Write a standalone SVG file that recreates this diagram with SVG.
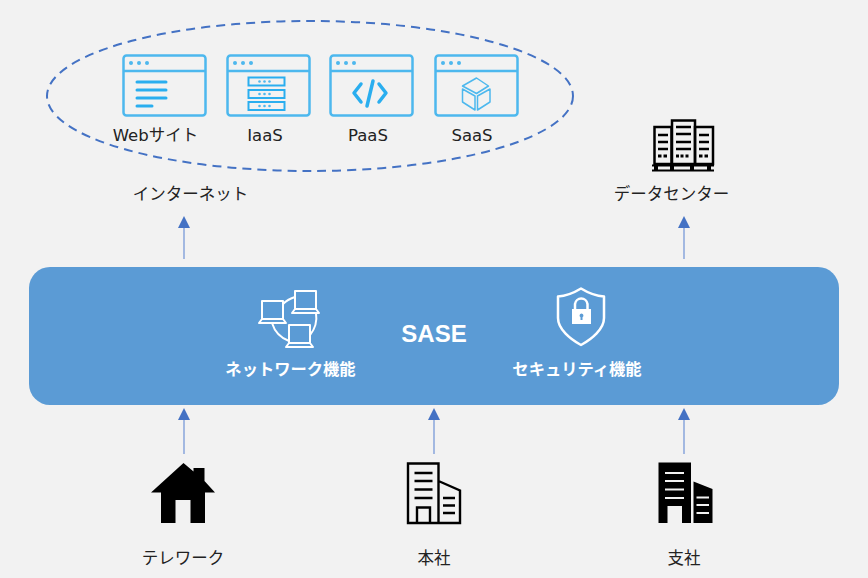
<svg xmlns="http://www.w3.org/2000/svg" width="868" height="578" viewBox="0 0 868 578">
<style>
text{font-family:"DejaVu Sans","Noto Sans CJK JP",sans-serif;font-size:16.500px;fill:#222;text-anchor:middle}
.w{fill:none;stroke:#4db8ee;stroke-width:2.500}
.b{fill:none;stroke:#2aaeef;stroke-width:3;stroke-linecap:round;stroke-linejoin:round}
.d{fill:#4db8ee}
.wt{fill:#fff;font-weight:700;font-size:16.300px}
.k{fill:none;stroke:#000;stroke-width:2.500}
.kf{fill:#000}
.ws{fill:none;stroke:#fff;stroke-width:2;stroke-linejoin:round}
.conn{stroke:#8faadc;stroke-width:1.600;fill:none}
.head{fill:#4472c4}
.sl{stroke:#f2f2f2;stroke-width:2}
</style>
<defs>
<g id="win">
<rect class="w" x="1" y="1" width="82" height="60" rx="3"/>
<path class="w" d="M1 16.500H83"/>
<circle class="d" cx="8.500" cy="8.500" r="2"/><circle class="d" cx="16.500" cy="8.500" r="2"/><circle class="d" cx="24.500" cy="8.500" r="2"/>
</g>
<g id="srv"><rect x="0" y="0" width="36" height="8" fill="none" stroke="#2aaeef" stroke-width="2"/><circle class="d" cx="11" cy="4" r="1.300"/><circle class="d" cx="16" cy="4" r="1.300"/><circle class="d" cx="21" cy="4" r="1.300"/></g>
<path id="pc" class="ws" d="M3 0H24V18H3ZM3 18L0 22H27L24 18"/>
<path id="ah" class="head" d="M0 0L6 12H-6Z"/>
</defs>
<rect width="868" height="578" fill="#f2f2f2"/>
<ellipse cx="310" cy="96" rx="263" ry="75" fill="none" stroke="#4472c4" stroke-width="2" stroke-dasharray="9 6"/>
<g id="web"><use href="#win" x="122.500" y="54.500"/>
<path class="b" d="M137 82H166M137 90H166M137 98H166M137 106H152"/>
<text x="155.500" y="140.500">Webサイト</text></g>
<g id="iaas"><use href="#win" x="226.500" y="54.500"/>
<use href="#srv" x="248.500" y="77.500"/><use href="#srv" x="248.500" y="90"/><use href="#srv" x="248.500" y="102"/>
<text x="265" y="140.500">IaaS</text></g>
<g id="paas"><use href="#win" x="329.500" y="54.500"/>
<path d="M361 84L354 93L361 102M379 84L386 93L379 102M373 81L367 106" fill="none" stroke="#2aaeef" stroke-width="3.500" stroke-linecap="round" stroke-linejoin="round"/>
<text x="368" y="140.500">PaaS</text></g>
<g id="saas"><use href="#win" x="434.500" y="54.500"/>
<path d="M476.500 78L488.500 86L476.500 93.500L462.500 86ZM462.500 89L475 96V110L462.500 102ZM490 89V102L477.500 110V96Z" fill="none" stroke="#4db8ee" stroke-width="1.500" stroke-linejoin="round"/>
<text x="472" y="140.500">SaaS</text></g>
<g id="internet"><text x="190.500" y="199.500">インターネット</text></g>
<g id="datacenter">
<rect class="k" x="654.500" y="127" width="17" height="37"/><rect class="k" x="695" y="127" width="18" height="37"/><rect class="k" x="672" y="120.500" width="23" height="43.500"/>
<path d="M658 135H668M658 142H668M658 149H668M676 127H691M676 134H691M676 142H691M676 149H691M699 135H709M699 142H709M699 149H709" stroke="#000" stroke-width="2.500"/>
<path d="M658 156h3.500M663.500 156h3.500M676 156h3M680.500 156h3M685.500 156h3M699 156h3.500M704.500 156h3.500" stroke="#000" stroke-width="2.800"/>
<path d="M652 170.500H714M652 165.500H714" stroke="#000" stroke-width="1.800"/>
<path d="M656 165V171M672 165V171M692 165V171M709 165V171" stroke="#000" stroke-width="4"/>
<text x="671.500" y="199.500">データセンター</text></g>
<g id="sase">
<rect x="29" y="267" width="810" height="138" rx="21" fill="#5b9bd5"/>
<text x="434" y="342" style="fill:#fff;font-weight:700;font-size:24px;font-family:'Liberation Sans',sans-serif">SASE</text>
<g id="network">
<path class="ws" d="M283 304A28 28 0 0 1 295 297M272 323A28 28 0 0 0 289 341M316 313A28 28 0 0 1 310 335"/>
<use href="#pc" x="259" y="301"/><use href="#pc" x="292" y="291"/><use href="#pc" x="286" y="325"/>
<text class="wt" x="290.500" y="375">ネットワーク機能</text></g>
<g id="security">
<path d="M581 288.500C572 294 566 296 558 296.500V318C558 329 570 339 581 345C592 339 604 329 604 318V296.500C596 296 590 294 581 288.500Z" fill="none" stroke="#fff" stroke-width="2.500" stroke-linejoin="round"/>
<path d="M575 309V304A6.300 6.300 0 0 1 587.500 304V309" fill="none" stroke="#fff" stroke-width="2.500"/>
<path d="M572 309H591V324H572ZM581.500 313.500a2 2 0 0 0-1 3.700V320h2v-2.800a2 2 0 0 0-1-3.700Z" fill="#fff" fill-rule="evenodd"/>
<text class="wt" x="577" y="375">セキュリティ機能</text></g>
</g>
<g id="connectors">
<path class="conn" d="M184 259V226M684 259V226M184 454V419M434 454V419M684 454V419"/>
<use href="#ah" x="184" y="216"/><use href="#ah" x="684" y="216"/>
<use href="#ah" x="184" y="408"/><use href="#ah" x="434" y="408"/><use href="#ah" x="684" y="408"/>
</g>
<g id="telework">
<path class="kf" d="M183.500 463L193.500 471.500V468H204.500V481L215 492.500H205V523H190.500V500H175.500V523H161V492.500H151Z"/>
<text x="183" y="563.500">テレワーク</text></g>
<g id="honsha">
<path d="M408 523V463.500H438.500V523ZM438.500 481L460 490.500V523H438.500M408 523H460M417 523V507.500H430V523" fill="none" stroke="#000" stroke-width="2.400"/>
<path d="M414.500 473H432.500M414.500 481H432.500M414.500 489.500H432.500M414.500 498H432.500M443 498H455M443 505.500H455M443 513H455" stroke="#000" stroke-width="2.400"/>
<text x="434" y="563.500">本社</text></g>
<g id="shisha">
<path class="kf" d="M658.500 462.500H691V523H682V506H667.500V523H658.500ZM693.500 481.500L712.500 489V523H693.500Z"/>
<path class="sl" d="M665 473H684M665 481H684M665 489.500H684M665 498H684M696.500 497.500H709M696.500 505H709M696.500 513H709" fill="none"/>
<text x="684" y="563.500">支社</text></g>
</svg>
